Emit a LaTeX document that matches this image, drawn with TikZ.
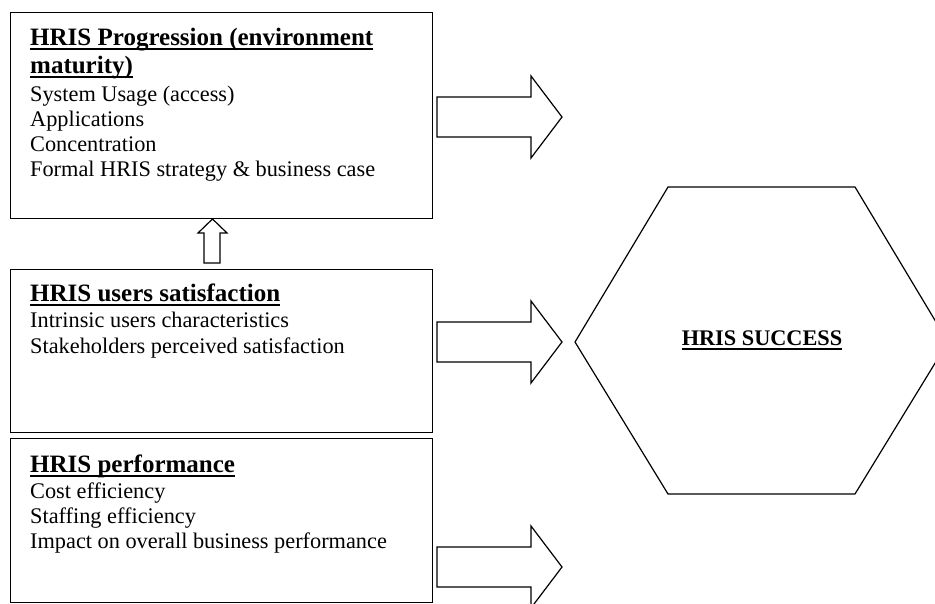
\documentclass[tikz,border=0pt]{standalone}
\usepackage{fontspec}
\setmainfont{Liberation Serif}

% heavy underline used for the headings
\newcommand\ulbar[1]{\setbox0\hbox{#1}\rlap{\rule[-4.5bp]{\wd0}{2bp}}\box0}
\newcommand\headfont{\fontsize{25bp}{29bp}\selectfont\bfseries}
\newcommand\succfont{\fontsize{22.3bp}{25bp}\selectfont\bfseries}
\newcommand\bodyfont{\fontsize{22.3bp}{25bp}\selectfont}

\tikzset{
  box/.style={draw, line width=1.3bp, anchor=north west, inner sep=0pt},
  txt/.style={anchor=base west, inner sep=0pt},
  blockarrow/.style={draw, line width=1.2bp, fill=white, line join=miter},
}

\begin{document}
\begin{tikzpicture}[x=1bp, y=-1bp]
  \path[clip] (0,0) rectangle (935,604);

  % the three factor boxes
  \node[box, minimum width=422bp, minimum height=206bp] (prog) at (10,12) {};
  \node[box, minimum width=422bp, minimum height=163bp] (users) at (10,269) {};
  \node[box, minimum width=422bp, minimum height=164bp] (perf) at (10,438) {};

  % HRIS progression
  \node[txt] (p1) at (30,46) {\headfont\ulbar{HRIS Progression (environment}};
  \node[txt] (p2) at (30,74) {\headfont\ulbar{maturity)}};
  \node[txt] (p3) at (30,102) {\bodyfont System Usage (access)};
  \node[txt] (p4) at (30,127) {\bodyfont Applications};
  \node[txt] (p5) at (30,152) {\bodyfont Concentration};
  \node[txt] (p6) at (30,177) {\bodyfont Formal HRIS strategy \& business case};

  % HRIS users satisfaction
  \node[txt] (u1) at (30,301) {\headfont\ulbar{HRIS users satisfaction}};
  \node[txt] (u2) at (30,327) {\bodyfont Intrinsic users characteristics};
  \node[txt] (u3) at (30,353) {\bodyfont Stakeholders perceived satisfaction};

  % HRIS performance
  \node[txt] (f1) at (30,472) {\headfont\ulbar{HRIS performance}};
  \node[txt] (f2) at (30,498) {\bodyfont Cost efficiency};
  \node[txt] (f3) at (30,523) {\bodyfont Staffing efficiency};
  \node[txt] (f4) at (30,548) {\bodyfont Impact on overall business performance};

  % outcome hexagon
  \draw[line width=1.2bp, line join=miter]
    (575,342) -- (668,187) -- (855,187) -- (948,342) -- (855,494) -- (668,494) -- cycle;
  \node[anchor=base, inner sep=0pt] (succ) at (762,345) {\succfont\ulbar{HRIS SUCCESS}};

  % upward block arrow between satisfaction and progression
  \draw[blockarrow] (204,263) -- (204,233) -- (198,233) -- (212.5,219) -- (227,233)
    -- (220,233) -- (220,263) -- cycle;

  % block arrows pointing to the hexagon
  \foreach \cy/\nm in {117/a1, 342/a2, 567/a3} {
    \draw[blockarrow] (437,\cy-20) -- (531,\cy-20) -- (531,\cy-41) -- (562,\cy)
      -- (531,\cy+41) -- (531,\cy+20) -- (437,\cy+20) -- cycle;
  }
\end{tikzpicture}
\end{document}
